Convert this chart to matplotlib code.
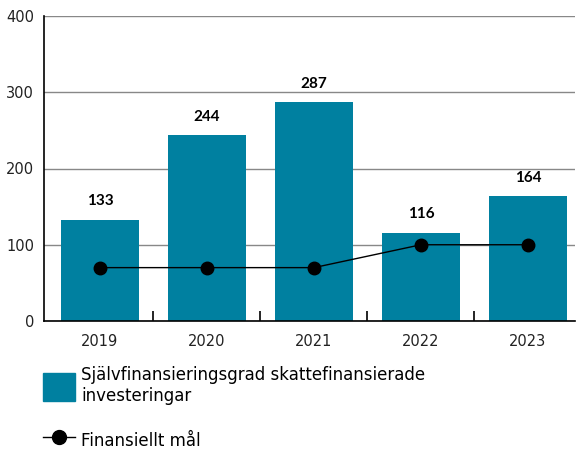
import matplotlib
matplotlib.use("Agg")
import matplotlib.pyplot as plt
from matplotlib.patches import Patch
from matplotlib.lines import Line2D

years = ["2019", "2020", "2021", "2022", "2023"]
grad = [133, 244, 287, 116, 164]
mal = [70, 70, 70, 100, 100]

TEAL = "#0080a0"
plt.rcParams["font.family"] = ["DejaVu Sans"]

fig = plt.figure(figsize=(5.82, 4.49), dpi=100)
ax = fig.add_axes([44 / 582, 1 - 321 / 449, 531 / 582, 305 / 449])

x = list(range(len(years)))
ax.bar(x, grad, width=0.73, color=TEAL, zorder=2)
ax.plot(x, mal, color="black", lw=1, marker="o", ms=9, zorder=3)
for xi, v in zip(x, grad):
    ax.text(xi, v + 15, str(v), ha="center", va="bottom", fontsize=11,
            fontweight="bold", color="black", family=["Lato", "DejaVu Sans"])

ax.set_xlim(-0.523, 4.44)
ax.set_ylim(0, 400)
ax.set_yticks([0, 100, 200, 300, 400])
ax.yaxis.grid(True, color="#888888", lw=1, zorder=0)
ax.set_axisbelow(True)
for s in ["top", "right"]:
    ax.spines[s].set_visible(False)
ax.spines["left"].set_linewidth(1.2)
ax.spines["bottom"].set_linewidth(1.2)
ax.tick_params(axis="y", length=0, labelsize=10.5, pad=7, colors="#222222")
ax.set_xticks(x)
ax.set_xticklabels(years)
ax.set_xticks([0.5, 1.5, 2.5, 3.5], minor=True)
ax.tick_params(axis="x", which="major", length=0, labelsize=10.5, pad=9, colors="#222222")
ax.tick_params(axis="x", which="minor", length=7, direction="in", width=1.2)

handles = [Patch(color=TEAL),
           Line2D([0], [0], color="black", lw=1, marker="o", ms=10)]
labels = ["Självfinansieringsgrad skattefinansierade\ninvesteringar", "Finansiellt mål"]
fig.legend(handles, labels, loc="upper left", bbox_to_anchor=(28 / 582, 1 - 351 / 449),
           frameon=False, handlelength=1.9, handleheight=2.2,
           labelspacing=1.35, handletextpad=0.4, prop={"family": "DejaVu Sans", "size": 12})

fig.savefig("out.png", dpi=100)
